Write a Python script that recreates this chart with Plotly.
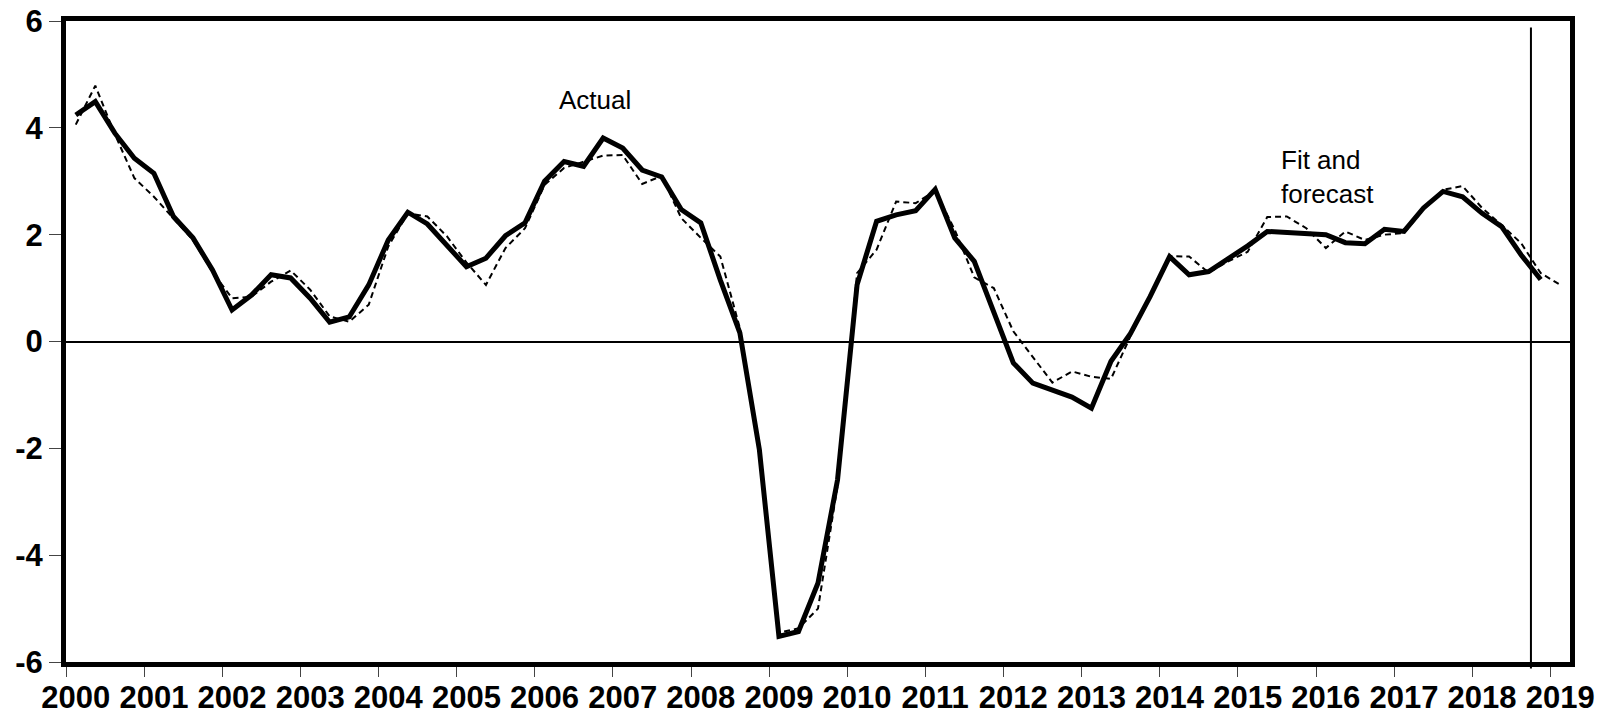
import plotly.graph_objects as go

years = [str(y) for y in range(2000, 2020)]
y_ticks = [-6, -4, -2, 0, 2, 4, 6]
y_tick_text = ["-6", "-4", "-2", "0", "2", "4", "6"]

# Quarterly values, 2000Q1 onwards
actual = [4.24, 4.49, 3.90, 3.43, 3.15, 2.34, 1.94, 1.34, 0.59, 0.87,
          1.25, 1.19, 0.81, 0.36, 0.46, 1.06, 1.90, 2.42, 2.20, 1.81,
          1.40, 1.56, 1.98, 2.22, 3.00, 3.37, 3.28, 3.81, 3.62, 3.21,
          3.08, 2.47, 2.22, 1.15, 0.16, -2.03, -5.52, -5.43, -4.52, -2.59,
          1.06, 2.25, 2.37, 2.45, 2.85, 1.94, 1.50, 0.55, -0.40, -0.78,
          -0.92, -1.04, -1.25, -0.37, 0.15, 0.84, 1.59, 1.25, 1.31, 1.55,
          1.79, 2.06, 2.04, 2.02, 2.00, 1.85, 1.83, 2.10, 2.06, 2.50,
          2.81, 2.71, 2.40, 2.15, 1.62, 1.16]

fit_forecast = [4.06, 4.79, 3.88, 3.06, 2.71, 2.31, 1.90, 1.30, 0.81, 0.84,
                1.12, 1.33, 0.97, 0.47, 0.37, 0.69, 1.78, 2.40, 2.34, 1.97,
                1.48, 1.06, 1.75, 2.12, 2.93, 3.25, 3.37, 3.48, 3.49, 2.95,
                3.10, 2.31, 1.94, 1.59, 0.25, -2.05, -5.45, -5.37, -5.00, -2.70,
                1.28, 1.72, 2.62, 2.59, 2.82, 2.09, 1.20, 1.00, 0.19, -0.28,
                -0.77, -0.56, -0.66, -0.70, 0.10, 0.85, 1.60, 1.59, 1.29, 1.50,
                1.68, 2.33, 2.34, 2.12, 1.75, 2.06, 1.90, 2.00, 2.03, 2.47,
                2.84, 2.91, 2.50, 2.18, 1.84, 1.28, 1.06]

n_q = len(fit_forecast)
x_actual = list(range(len(actual)))
x_fit = list(range(n_q))
forecast_start = 74.5  # boundary between 2018Q3 and 2018Q4

label_font = dict(family="Liberation Sans, Arial, sans-serif", size=31, color="black", weight="bold")
note_font = dict(family="Liberation Sans, Arial, sans-serif", size=26, color="black")

fig = go.Figure()
fig.add_trace(go.Scatter(x=x_actual, y=actual, mode="lines", name="Actual",
                         line=dict(color="black", width=5)))
fig.add_trace(go.Scatter(x=x_fit, y=fit_forecast, mode="lines", name="Fit and forecast",
                         line=dict(color="black", width=2, dash="6px,4px")))

xr = [-0.5, n_q - 0.5]
fig.update_layout(
    width=1599, height=716,
    margin=dict(l=66, r=29, t=21, b=54),
    paper_bgcolor="white", plot_bgcolor="white",
    showlegend=False,
    xaxis=dict(range=xr, tickmode="array", automargin=False,
               tickvals=[4 * k - 0.5 for k in range(len(years))],
               showticklabels=False, ticks="outside", ticklen=10, tickwidth=1,
               tickcolor="#444", showline=True, linewidth=5, linecolor="black",
               mirror=True, showgrid=False, zeroline=False),
    xaxis2=dict(range=xr, overlaying="x", anchor="y", side="bottom", automargin=False,
                tickmode="array", tickvals=[4 * k for k in range(len(years))],
                ticktext=years, ticks="outside", ticklen=8,
                tickcolor="rgba(0,0,0,0)", showline=False, showgrid=False,
                zeroline=False, tickfont=label_font),
    yaxis=dict(range=[-6, 6], tickmode="array", tickvals=y_ticks, ticktext=y_tick_text,
               automargin=False, ticks="outside", ticklen=12, tickwidth=1, tickcolor="#444",
               showline=True, linewidth=5, linecolor="black", mirror=True,
               showgrid=False, zeroline=True, zerolinecolor="black",
               zerolinewidth=1.5, tickfont=label_font),
)
# dummy trace so the label axis is rendered
fig.add_trace(go.Scatter(x=[None], y=[None], xaxis="x2", yaxis="y",
                         showlegend=False, hoverinfo="skip"))

fig.add_shape(type="line", xref="x", yref="paper", x0=forecast_start, x1=forecast_start,
              y0=-0.01, y1=0.99, line=dict(color="black", width=2))

fig.add_annotation(x=26.6, y=4.52, xref="x", yref="y", text="Actual", showarrow=False,
                   font=note_font)
fig.add_annotation(x=61.6, y=3.08, xref="x", yref="y", text="Fit and<br>forecast",
                   showarrow=False, xanchor="left", align="left", font=note_font)

fig.write_html("out.html", config={"displayModeBar": False},
               post_script="document.body.style.margin='0';document.body.style.overflow='hidden';")
